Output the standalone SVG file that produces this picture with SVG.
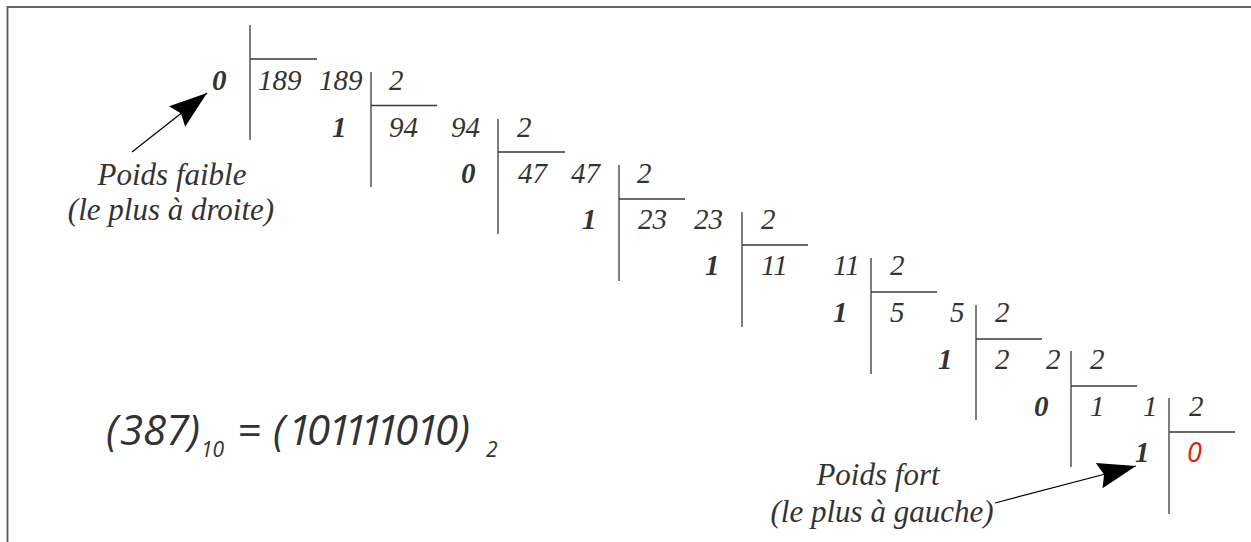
<svg xmlns="http://www.w3.org/2000/svg" width="1251" height="542" viewBox="0 0 1251 542">
<style>
.n{font-family:"Liberation Serif","Times New Roman",serif;font-style:italic;font-size:29px;fill:#333}
.b{font-family:"Liberation Serif","Times New Roman",serif;font-style:italic;font-weight:bold;font-size:29px;fill:#333}
.l{font-family:"Liberation Serif","Times New Roman",serif;font-style:italic;font-size:31px;fill:#333;text-anchor:middle}
.eq{font-family:"Open Sans","Noto Sans",sans-serif;font-style:italic;fill:#333}
.v{stroke:#3a3a3a;stroke-width:1.3;fill:none}
.c{stroke:#000;stroke-width:1.2;fill:none;marker-end:url(#ah)}
</style>
<defs>
<marker id="ah" markerUnits="userSpaceOnUse" markerWidth="40" markerHeight="28" refX="38" refY="13" orient="auto" viewBox="0 0 40 28">
<path d="M0,0 L38,13 L0,26 L5,13 Z" fill="#000"/>
</marker>
</defs>
<rect x="7.5" y="7" width="1260" height="560" fill="#fff" stroke="#555" stroke-width="1.8"/>

<g id="step0">
<path class="v" d="M250,25V140M250,59H317"/>
<text class="b" x="212" y="90">0</text>
<text class="n" x="258" y="90">189</text>
</g>
<g id="step1">
<path class="v" d="M371,72V187M371,105.5H437"/>
<text class="n" x="319" y="90">189</text>
<text class="n" x="389" y="90">2</text>
<text class="b" x="332" y="137">1</text>
<text class="n" x="389" y="137">94</text>
</g>
<g id="step2">
<path class="v" d="M498,119V234M498,152H565"/>
<text class="n" x="451" y="137">94</text>
<text class="n" x="517" y="137">2</text>
<text class="b" x="461" y="183">0</text>
<text class="n" x="518" y="183">47</text>
</g>
<g id="step3">
<path class="v" d="M619,165V281M619,199H685"/>
<text class="n" x="571" y="183">47</text>
<text class="n" x="637" y="183">2</text>
<text class="b" x="582" y="229">1</text>
<text class="n" x="638" y="229">23</text>
</g>
<g id="step4">
<path class="v" d="M742,212V327M742,245H808"/>
<text class="n" x="694" y="229">23</text>
<text class="n" x="761" y="229">2</text>
<text class="b" x="705" y="275">1</text>
<text class="n" x="761" y="275">11</text>
</g>
<g id="step5">
<path class="v" d="M871,258V374M871,292H937"/>
<text class="n" x="833" y="275">11</text>
<text class="n" x="890" y="275">2</text>
<text class="b" x="833" y="322">1</text>
<text class="n" x="890" y="322">5</text>
</g>
<g id="step6">
<path class="v" d="M976,305V420M976,339H1042"/>
<text class="n" x="950" y="322">5</text>
<text class="n" x="995" y="322">2</text>
<text class="b" x="938" y="369">1</text>
<text class="n" x="995" y="369">2</text>
</g>
<g id="step7">
<path class="v" d="M1071,351V467M1071,386H1137"/>
<text class="n" x="1046" y="369">2</text>
<text class="n" x="1090" y="369">2</text>
<text class="b" x="1034" y="416">0</text>
<text class="n" x="1090" y="416">1</text>
</g>
<g id="step8">
<path class="v" d="M1169,398V514M1169,432H1235"/>
<text class="n" x="1143" y="416">1</text>
<text class="n" x="1189" y="416">2</text>
<text class="b" x="1135" y="462">1</text>
<text class="eq" x="1187" y="462" font-size="27" style="fill:#e0200a">0</text>
</g>

<g id="label-faible">
<text class="l" x="172" y="185">Poids faible</text>
<text class="l" x="171" y="220">(le plus à droite)</text>
</g>
<g id="label-fort">
<text class="l" x="878" y="485">Poids fort</text>
<text class="l" x="882" y="522">(le plus à gauche)</text>
</g>

<g id="equation">
<text class="eq" font-size="42"><tspan x="106 120 143 166 188" y="445">(387)</tspan><tspan x="201" y="457" font-size="21">10</tspan><tspan x="237" y="445">=</tspan><tspan x="273 288 307 328 344 360 376 395 416 435 458" y="445">(101111010)</tspan><tspan x="486" y="457" font-size="21">2</tspan></text>
</g>

<g id="connectors">
<path class="c" d="M132,152L207,93"/>
<path class="c" d="M995,503L1136,466"/>
</g>
</svg>
